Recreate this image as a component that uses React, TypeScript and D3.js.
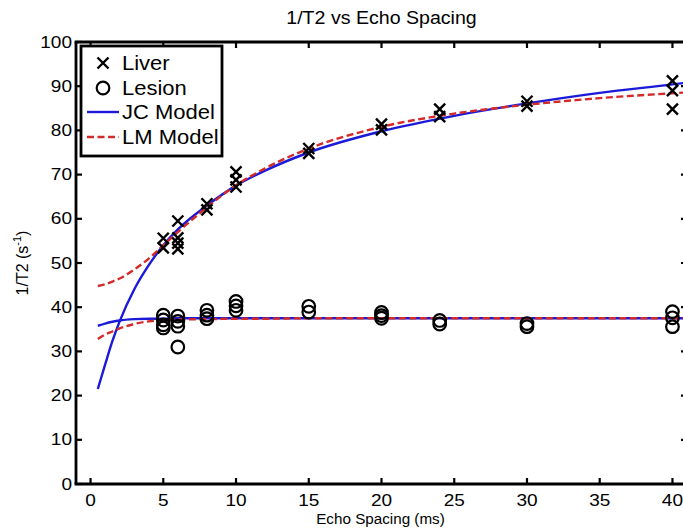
import React from "react";
import * as d3 from "d3";

// ---- data ----
const liverX = [5, 5, 6, 6, 6, 6, 8, 8, 10, 10, 10, 15, 15, 20, 20, 24, 24, 30, 30, 40, 40, 40];
const liverY = [55.6, 53.4, 59.5, 55.7, 54.5, 53.2, 63.4, 62, 70.6, 68.8, 67.2, 75.9, 74.8, 81.4, 80.1, 84.8, 83.1, 86.6, 85.5, 91.2, 89, 84.8];

const lesionX = [5, 5, 5, 5, 6, 6, 6, 6, 8, 8, 8, 10, 10, 10, 15, 15, 20, 20, 20, 24, 24, 30, 30, 40, 40, 40];
const lesionY = [38.2, 37.1, 36, 35.3, 38, 36.8, 35.7, 31, 39.3, 38.2, 37.4, 41.3, 40.3, 39.3, 40.2, 38.9, 38.8, 38.1, 37.5, 37, 36.2, 36.3, 35.6, 39, 37.6, 35.6];

const curveX = [0.5, 1, 1.5, 2, 3, 4, 5, 6, 8, 10, 12, 15, 20, 25, 30, 35, 40, 41];
const jcLiver = [21.5, 27, 32.3, 36.8, 44, 49.5, 54, 57.6, 63, 67.5, 70.9, 75, 79.8, 83.3, 86.1, 88.5, 90.4, 90.8];
const lmLiver = [44.8, 45.2, 45.8, 46.5, 48.5, 51, 54, 57, 62.6, 67.6, 71.4, 75.9, 80.8, 83.8, 85.8, 87.3, 88.4, 88.6];
const jcLesion = [35.8, 36.3, 36.7, 37, 37.3, 37.4, 37.4, 37.5, 37.5, 37.5, 37.5, 37.5, 37.5, 37.5, 37.5, 37.5, 37.5, 37.5];
const lmLesion = [32.8, 33.8, 34.5, 35.2, 36.2, 36.8, 37.1, 37.2, 37.3, 37.4, 37.4, 37.5, 37.5, 37.5, 37.5, 37.5, 37.5, 37.5];

const xTicks = [0, 5, 10, 15, 20, 25, 30, 35, 40];
const yTicks = [0, 10, 20, 30, 40, 50, 60, 70, 80, 90, 100];

const legendLabels = ["Liver", "Lesion", "JC Model", "LM Model"];

const BLUE = "#1a1ad8";
const RED = "#d42a2a";
const FONT = "'Liberation Sans', Arial, sans-serif";

type TProps = {
  x: number;
  y: number;
  size: number;
  k?: number;
  anchor?: "start" | "middle" | "end";
  rotate?: number;
  children: React.ReactNode;
};

function T({ x, y, size, k = 1, anchor = "start", rotate = 0, children }: TProps) {
  return (
    <text
      transform={`translate(${x},${y}) rotate(${rotate}) scale(${k},1)`}
      textAnchor={anchor}
      dominantBaseline="central"
      fontSize={size}
    >
      {children}
    </text>
  );
}

export default function App() {
  const W = 683, H = 529;
  const left = 76, right = 687, top = 42, bottom = 484;
  const x = d3.scaleLinear().domain([-1, 41]).range([left, right]);
  const y = d3.scaleLinear().domain([0, 100]).range([bottom, top]);

  const line = d3
    .line<[number, number]>()
    .x((d) => x(d[0]))
    .y((d) => y(d[1]))
    .curve(d3.curveMonotoneX);

  const pts = (ys: number[]) => curveX.map((cx, i) => [cx, ys[i]] as [number, number]);

  const cross = (cx: number, cy: number, s: number, key: string) => (
    <path
      key={key}
      d={`M${cx - s},${cy - s}L${cx + s},${cy + s}M${cx - s},${cy + s}L${cx + s},${cy - s}`}
      stroke="#000"
      strokeWidth={2.4}
      fill="none"
    />
  );

  const tickLen = 6;
  const legY = [63, 88, 112, 137];
  const DASH = "7,3.5";

  return (
    <svg
      width={W}
      height={H}
      style={{ position: "absolute", left: 0, top: 0, background: "#fff" }}
      fontFamily={FONT}
    >
      <rect x={0} y={0} width={W} height={H} fill="#fff" />
      <defs>
        <clipPath id="plotClip">
          <rect x={left} y={top} width={right - left} height={bottom - top} />
        </clipPath>
      </defs>

      {/* title */}
      <T x={(left + right) / 2} y={18} size={17.5} k={1.12} anchor="middle">
        1/T2 vs Echo Spacing
      </T>

      {/* curves and points */}
      <g clipPath="url(#plotClip)">
        <path d={line(pts(jcLiver)) || ""} stroke={BLUE} strokeWidth={2.4} fill="none" />
        <path d={line(pts(jcLesion)) || ""} stroke={BLUE} strokeWidth={2.4} fill="none" />
        <path d={line(pts(lmLiver)) || ""} stroke={RED} strokeWidth={2.4} fill="none" strokeDasharray={DASH} />
        <path d={line(pts(lmLesion)) || ""} stroke={RED} strokeWidth={2.4} fill="none" strokeDasharray={DASH} />

        {liverX.map((lx, i) => cross(x(lx), y(liverY[i]), 5.5, "l" + i))}
        {lesionX.map((lx, i) => (
          <circle key={"c" + i} cx={x(lx)} cy={y(lesionY[i])} r={6.3} stroke="#000" strokeWidth={2.2} fill="none" />
        ))}
      </g>

      {/* axes box */}
      <g stroke="#000" strokeWidth={2.8} fill="none">
        <line x1={left} y1={top} x2={left} y2={bottom} />
        <line x1={left - 1.4} y1={bottom} x2={right} y2={bottom} />
        <line x1={left - 1.4} y1={top} x2={right} y2={top} />
        <line x1={right} y1={top} x2={right} y2={bottom} />
      </g>

      {/* ticks */}
      <g stroke="#000" strokeWidth={2.2}>
        {xTicks.map((t) => (
          <g key={"xt" + t}>
            <line x1={x(t)} x2={x(t)} y1={bottom} y2={bottom - tickLen} />
            <line x1={x(t)} x2={x(t)} y1={top} y2={top + tickLen} />
          </g>
        ))}
        {yTicks.map((t) => (
          <g key={"yt" + t}>
            <line x1={left} x2={left + tickLen} y1={y(t)} y2={y(t)} />
            <line x1={right} x2={right - tickLen} y1={y(t)} y2={y(t)} />
          </g>
        ))}
      </g>

      {/* tick labels */}
      {xTicks.map((t) => (
        <T key={"xl" + t} x={x(t)} y={500} size={17} k={1.12} anchor="middle">
          {t}
        </T>
      ))}
      {yTicks.map((t) => (
        <T key={"yl" + t} x={left - 4} y={y(t)} size={17} k={1.12} anchor="end">
          {t}
        </T>
      ))}

      {/* axis labels */}
      <T x={(left + right) / 2 - 1} y={519} size={14.5} k={1.05} anchor="middle">
        Echo Spacing (ms)
      </T>
      <T x={22} y={263} size={16} rotate={-90} anchor="middle">
        1/T2 (s
        <tspan dy={-5} fontSize={11}>-1</tspan>
        <tspan dy={5}>)</tspan>
      </T>

      {/* legend */}
      <rect x={81} y={46} width={141} height={110} fill="#fff" stroke="#000" strokeWidth={2.8} />
      {cross(103, legY[0], 5.5, "leg0")}
      <circle cx={103} cy={legY[1]} r={6.3} stroke="#000" strokeWidth={2.2} fill="none" />
      <line x1={87} x2={119} y1={legY[2]} y2={legY[2]} stroke={BLUE} strokeWidth={2.4} />
      <line x1={87} x2={119} y1={legY[3]} y2={legY[3]} stroke={RED} strokeWidth={2.4} strokeDasharray={DASH} />
      {legendLabels.map((l, i) => (
        <T key={l} x={122} y={legY[i]} size={20} k={1.1}>
          {l}
        </T>
      ))}
    </svg>
  );
}
